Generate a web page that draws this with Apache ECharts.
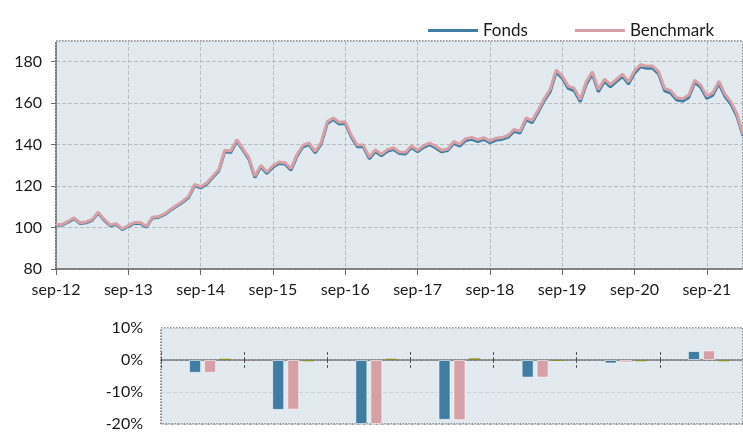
<!DOCTYPE html>
<html>
<head>
    <meta charset="UTF-8">
    <title>Fonds vs Benchmark</title>
    <script src="https://cdn.jsdelivr.net/npm/echarts@6/dist/echarts.min.js"></script>
    <style>
        html, body { margin: 0; padding: 0; background: #fff; }
    </style>
</head>
<body>
<div id="chart" style="width:743px; height:432px;"></div>
<script>
    var benchmark = [
        101.5, 101.5, 103, 104.7, 102.3, 102.7, 103.9, 107.4, 103.9, 101.3, 101.9, 99.4,
        101, 102.4, 102.4, 100.6, 105, 105.3, 106.6, 108.7, 110.8, 112.6, 115, 120.8,
        119.7, 121.5, 124.7, 127.9, 137.3, 136.9, 142.4, 138.1, 133.7, 124.8, 130, 126.8,
        129.8, 131.6, 131.3, 128.4, 135.3, 139.8, 140.8, 136.8, 141, 151, 152.9, 150.8,
        151, 144.5, 139.8, 139.8, 134, 137.5, 135.4, 137.6, 138.5, 136.5, 136.3, 139.4,
        137.3, 139.5, 140.8, 139.2, 137.3, 137.9, 141.5, 140.2, 142.9, 143.5, 142.4, 143.4,
        141.8, 143.1, 143.4, 144.4, 147.3, 146.5, 152.9, 151.6, 156.6, 162.1, 166.6, 176,
        173.1, 168.2, 167.1, 161.8, 170.3, 175.2, 166.6, 171.6, 169, 171.5, 174, 170.3,
        175.6, 178.7, 177.9, 177.9, 175.2, 167.1, 166, 162.6, 162.1, 163.9, 171.1, 168.7,
        163.4, 165, 170.6, 164.4, 160.6, 154.7, 145
    ];
    var fonds = [
        101.2, 101.1, 102.6, 104.3, 101.9, 102.3, 103.5, 107.0, 103.5, 100.9, 101.5, 99.0,
        100.6, 102.0, 102.0, 100.2, 104.6, 104.9, 106.2, 108.3, 110.3, 112.1, 114.5, 120.2,
        119.1, 120.9, 124.1, 127.3, 136.6, 136.2, 141.7, 137.4, 133.0, 124.1, 129.3, 126.1,
        129.1, 130.9, 130.6, 127.7, 134.5, 139.0, 140.0, 136.0, 140.2, 150.2, 152.1, 150.0,
        150.2, 143.7, 139.0, 139.0, 133.2, 136.7, 134.6, 136.8, 137.7, 135.7, 135.5, 138.6,
        136.5, 138.7, 140.0, 138.4, 136.5, 137.1, 140.6, 139.3, 142.0, 142.6, 141.5, 142.5,
        140.9, 142.2, 142.5, 143.5, 146.4, 145.6, 152.0, 150.6, 155.6, 161.1, 165.5, 174.9,
        172.0, 167.1, 166.0, 160.7, 169.2, 174.1, 165.5, 170.5, 167.9, 170.4, 172.9, 169.2,
        174.5, 177.6, 176.8, 176.8, 174.1, 166.0, 164.9, 161.5, 161.0, 162.8, 170.0, 167.6,
        162.3, 163.9, 169.5, 163.3, 159.5, 153.6, 144.2
    ];

    // jaarrendementen (%)
    var jaren = ['2016', '2017', '2018', '2019', '2020', '2021', '2022'];
    var rendFonds = [-4.0, -15.6, -20, -18.7, -5.5, -1.1, 2.8];
    var rendBench = [-4.0, -15.5, -20, -18.8, -5.5, -0.8, 3.0];
    var verschil = [0.4, -0.4, 0.4, 0.5, -0.3, -0.4, -0.4];
    var leeg = ['-', '-', '-', '-', '-', '-', '-'];

    var maandNamen = ['jan', 'feb', 'mrt', 'apr', 'mei', 'jun', 'jul', 'aug', 'sep', 'okt', 'nov', 'dec'];
    var maanden = [];
    for (var i = 0; i < benchmark.length; i++) {
        var m = (8 + i) % 12;
        var j = 12 + Math.floor((8 + i) / 12);
        maanden.push(maandNamen[m] + '-' + j);
    }

    var font = 'Lato, "Noto Sans", sans-serif';
    var blauw = '#3f7da2';
    var roze = '#d6a1a6';
    var olijf = '#6b6b10';
    var achtergrond = '#e2eaf0';

    // scheidingsstreepjes tussen de jaren (hulpas over de categoriegrenzen)
    // axisLine moet 'show' hebben, anders werkt onZero niet
    function scheidingsAs(binnen) {
        return {
            gridIndex: 1,
            type: 'value',
            min: 0,
            max: jaren.length,
            interval: 1,
            position: 'bottom',
            axisLine: {show: true, onZero: true, onZeroAxisIndex: 1, lineStyle: {color: 'rgba(0,0,0,0)', width: 0}},
            axisTick: {show: true, inside: binnen, length: 8, lineStyle: {color: '#555555', width: 1, type: [3, 2]}},
            axisLabel: {show: false},
            splitLine: {show: false}
        };
    }

    var chart = echarts.init(document.getElementById('chart'), null, {renderer: 'canvas'});
    var option = {
        backgroundColor: '#ffffff',
        animation: false,
        textStyle: {fontFamily: font},
        legend: {
            data: ['Fonds', 'Benchmark'],
            left: 423,
            top: 17,
            icon: 'rect',
            itemWidth: 50,
            itemHeight: 3,
            itemGap: 47,
            textStyle: {fontFamily: font, fontSize: 17, color: '#1a1a1a'}
        },
        grid: [
            {
                left: 56, right: -2, top: 41, height: 228,
                show: true,
                backgroundColor: achtergrond,
                borderColor: '#6a6a6a',
                borderWidth: 1.5,
                borderType: 'dotted'
            },
            {
                left: 161, right: -10, top: 328, height: 99,
                show: true,
                backgroundColor: achtergrond,
                borderColor: '#6a6a6a',
                borderWidth: 1.5,
                borderType: 'dotted'
            }
        ],
        xAxis: [
            {
                gridIndex: 0,
                type: 'category',
                data: maanden,
                boundaryGap: false,
                axisLine: {lineStyle: {color: '#6a6a6a', type: 'dotted', width: 1.5}},
                axisTick: {interval: 11, length: 6, lineStyle: {color: '#6a6a6a'}},
                axisLabel: {interval: 11, margin: 13, fontSize: 16, color: '#1a1a1a', fontFamily: font},
                splitLine: {show: true, interval: 11, lineStyle: {color: '#b9bec3', type: 'dashed'}}
            },
            {
                gridIndex: 1,
                type: 'category',
                data: jaren,
                axisLine: {onZero: true, onZeroAxisIndex: 1, lineStyle: {color: '#666666', type: 'dotted', width: 1.5}},
                axisTick: {show: false},
                axisLabel: {show: false},
                splitLine: {show: false}
            },
            scheidingsAs(false),
            scheidingsAs(true)
        ],
        yAxis: [
            {
                gridIndex: 0,
                type: 'value',
                min: 80,
                max: 190,
                interval: 20,
                axisLine: {show: true, lineStyle: {color: '#6a6a6a', type: 'dotted', width: 1.5}},
                axisTick: {show: true, length: 5, lineStyle: {color: '#6a6a6a'}},
                axisLabel: {showMaxLabel: false, margin: 14, fontSize: 16, color: '#1a1a1a', fontFamily: font},
                splitLine: {lineStyle: {color: '#b9bec3', type: 'dashed'}}
            },
            {
                gridIndex: 1,
                type: 'value',
                min: -20,
                max: 10,
                interval: 10,
                axisLine: {show: false},
                axisTick: {show: false},
                axisLabel: {
                    margin: 18, fontSize: 16, color: '#1a1a1a', fontFamily: font,
                    formatter: function (v) { return v + '%'; }
                },
                splitLine: {lineStyle: {color: '#cdd3d8', type: 'dashed'}}
            }
        ],
        series: [
            {
                name: 'Fonds',
                type: 'line',
                xAxisIndex: 0, yAxisIndex: 0,
                data: fonds,
                symbol: 'none',
                lineStyle: {color: blauw, width: 3},
                itemStyle: {color: blauw}
            },
            {
                name: 'Benchmark',
                type: 'line',
                xAxisIndex: 0, yAxisIndex: 0,
                data: benchmark,
                symbol: 'none',
                lineStyle: {color: roze, width: 3},
                itemStyle: {color: roze}
            },
            // lege plek links in elke groep
            {
                name: 'leeg',
                type: 'bar',
                xAxisIndex: 1, yAxisIndex: 1,
                data: leeg,
                barWidth: 12,
                barGap: '25%'
            },
            {
                name: 'Fonds',
                type: 'bar',
                xAxisIndex: 1, yAxisIndex: 1,
                data: rendFonds,
                barWidth: 12,
                barGap: '25%',
                itemStyle: {color: blauw, borderColor: 'rgba(255,255,255,0.55)', borderWidth: 1}
            },
            {
                name: 'Benchmark',
                type: 'bar',
                xAxisIndex: 1, yAxisIndex: 1,
                data: rendBench,
                barWidth: 12,
                barGap: '25%',
                itemStyle: {color: roze, borderColor: 'rgba(255,255,255,0.55)', borderWidth: 1}
            },
            {
                name: 'Verschil',
                type: 'bar',
                xAxisIndex: 1, yAxisIndex: 1,
                data: verschil,
                barWidth: 12,
                barGap: '25%',
                z: 3,
                itemStyle: {color: olijf, borderColor: '#8f8f2a', borderWidth: 1}
            }
        ]
    };
    chart.setOption(option);
</script>
</body>
</html>
